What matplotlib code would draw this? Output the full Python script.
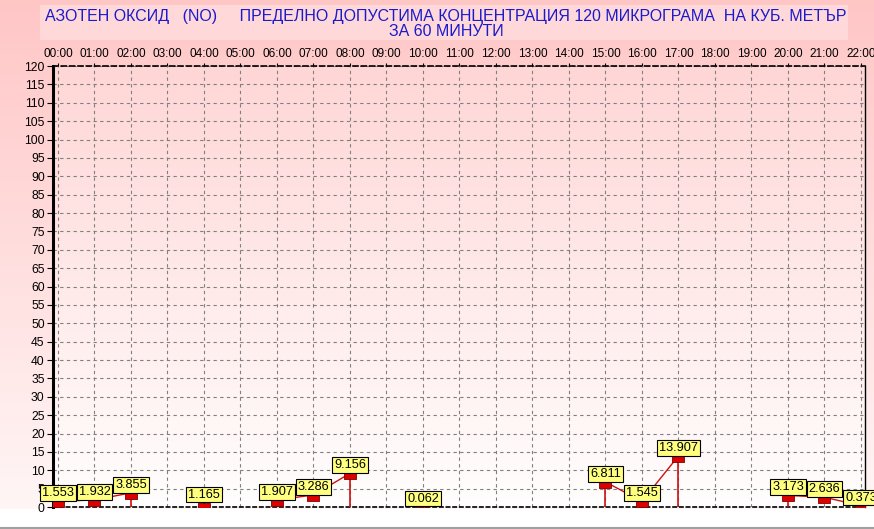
import numpy as np
import matplotlib
matplotlib.use("Agg")
import matplotlib.pyplot as plt
from matplotlib import font_manager
from matplotlib.path import Path
from matplotlib.markers import MarkerStyle

# ---- data ----
title_line1 = "АЗОТЕН ОКСИД   (NO)     ПРЕДЕЛНО ДОПУСТИМА КОНЦЕНТРАЦИЯ 120 МИКРОГРАМА  НА КУБ. МЕТЪР"
title_line2 = "ЗА 60 МИНУТИ"
hour_labels = ["%02d:00" % h for h in range(23)]
hours = [0, 1, 2, 4, 6, 7, 8, 10, 15, 16, 17, 20, 21, 22]
values = [1.553, 1.932, 3.855, 1.165, 1.907, 3.286, 9.156, 0.062,
          6.811, 1.545, 13.907, 3.173, 2.636, 0.373]
y_ticks = list(range(0, 121, 5))

def pick(name, fallback):
    try:
        font_manager.findfont(name, fallback_to_default=False)
        return name
    except Exception:
        return fallback

base_font = pick("Liberation Sans", "DejaVu Sans")
plt.rcParams['font.family'] = [base_font, 'DejaVu Sans']

W, H = 874, 529
fig = plt.figure(figsize=(W / 100, H / 100), dpi=100)

# ---- background gradient ----
bg = fig.add_axes([0, 0, 1, 1], zorder=-10)
bg.set_axis_off()
top = np.array([255, 198, 198]) / 255.0
bot = np.array([255, 246, 246]) / 255.0
grad_end = 509
img = np.ones((H, 1, 3))
for i in range(H):
    if i < grad_end:
        t = i / grad_end
        img[i, 0] = top * (1 - t) + bot * t
bg.imshow(img, aspect='auto', extent=[0, W, H, 0], interpolation='bilinear')
bg.set_xlim(0, W)
bg.set_ylim(H, 0)
bg.add_patch(plt.Rectangle((40, 5), 808, 35, facecolor=(1, 0.85, 0.85), edgecolor='none'))
bg.plot([0, W], [527.5, 527.5], color='#a0a0a0', lw=1.5)
bg.text(W / 2 + 9, 16, title_line1, ha='center', va='center', color='#1a1acc',
        fontsize=11.5)
bg.text(W / 2 + 9, 32, title_line2, ha='center', va='center', color='#1a1acc',
        fontsize=11.5)

# ---- main axes ----
left_px, right_px, top_px, bottom_px = 53, 865, 66, 507
ax = fig.add_axes([left_px / W, 1 - bottom_px / H, (right_px - left_px) / W,
                   (bottom_px - top_px) / H])
ax.set_facecolor('none')
ax.imshow(np.linspace([1, 0.84, 0.84], [1, 0.995, 0.995], 100).reshape(100, 1, 3),
          aspect='auto', extent=[-0.137, 22.11, 0, 120], origin='upper', zorder=-5)
ax.set_xlim(-0.137, 22.11)
ax.set_ylim(0, 120)

ax.set_yticks(y_ticks)
ax.set_yticklabels([str(v) for v in y_ticks], fontsize=8.7)
ax.set_xticks(range(23))
ax.set_xticklabels(hour_labels, fontsize=8.5)
ax.xaxis.tick_top()
ax.tick_params(axis='x', length=2, pad=2.5, color='black')
ax.tick_params(axis='y', length=4, pad=2, color='black')
ax.grid(True, color='#808080', linestyle=(0, (3, 3)), linewidth=0.8)

ax.spines['left'].set_linewidth(2.2)
ax.spines['right'].set_linewidth(1.0)
ax.spines['top'].set_linestyle((0, (3, 2)))
ax.spines['top'].set_linewidth(1.2)
ax.spines['bottom'].set_linestyle((0, (2, 2)))
ax.spines['bottom'].set_linewidth(1.2)

red = '#d01010'
segs = []
cur = [0]
for i in range(1, len(hours)):
    if hours[i] == hours[i - 1] + 1:
        cur.append(i)
    else:
        segs.append(cur)
        cur = [i]
segs.append(cur)

for s in segs:
    xs = [hours[i] for i in s]
    vs = [values[i] for i in s]
    ax.plot(xs, vs, color=red, lw=1.0, zorder=3, clip_on=False)
    for i in (s[0], s[-1]):
        ax.vlines(hours[i], 0, values[i], color=red, lw=1.2, zorder=3)

rect = Path([(-1, 0), (1, 0), (1, -1), (-1, -1), (-1, 0)])
ax.plot(hours, values, linestyle='none', marker=MarkerStyle(rect), markersize=8.6,
        markerfacecolor='#dd0000', markeredgecolor='#800000', markeredgewidth=0.6,
        zorder=4, clip_on=True)

for h, v in zip(hours, values):
    ax.annotate("%.3f" % v, (h, v), xytext=(0, 1.5), textcoords='offset points',
                ha='center', va='bottom', fontsize=9.2, zorder=6, annotation_clip=False,
                bbox=dict(boxstyle='square,pad=0.14', facecolor='#ffff80',
                          edgecolor='black', linewidth=0.8))

fig.savefig('out.png', dpi=100)
